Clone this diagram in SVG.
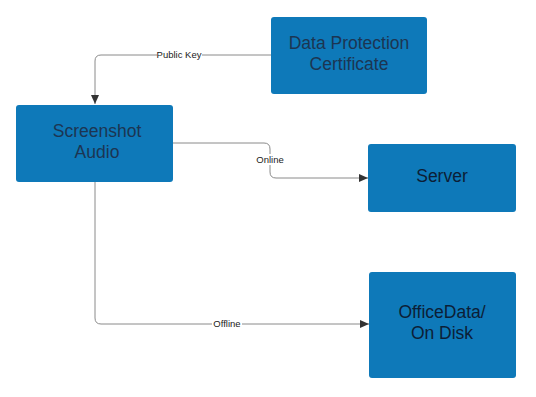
<svg xmlns="http://www.w3.org/2000/svg" width="536" height="397" viewBox="0 0 536 397">
<defs>
<style>
.box{fill:#0e79b9;}
.t{font-family:"Liberation Sans",Arial,sans-serif;font-size:17.5px;fill:#1c3552;text-anchor:middle;}
.d{fill:#0c1e36;}
.c{fill:none;stroke:#8a8a8a;stroke-width:1;}
.l{font-family:"Liberation Sans",Arial,sans-serif;font-size:9.5px;fill:#222;text-anchor:middle;}
.lb{fill:#fff;}
</style>
<marker id="ah" markerWidth="10" markerHeight="8" refX="9" refY="4" orient="auto" markerUnits="userSpaceOnUse">
<path d="M0,0 L9,4 L0,8 Z" fill="#333"/>
</marker>
</defs>
<rect width="536" height="397" fill="#fff"/>
<g id="connectors">
<path class="c" d="M271,55 H101 Q95,55 95,61 V104" marker-end="url(#ah)"/>
<rect class="lb" x="157" y="49" width="45" height="11"/>
<text class="l" x="179" y="58">Public Key</text>
<path class="c" d="M173,143 H264 Q270,143 270,149 V172 Q270,178 276,178 H368" marker-end="url(#ah)"/>
<rect class="lb" x="255" y="154" width="31" height="11"/>
<text class="l" x="270" y="163">Online</text>
<path class="c" d="M95,182 V318 Q95,324 101,324 H369" marker-end="url(#ah)"/>
<rect class="lb" x="212" y="318" width="30" height="11"/>
<text class="l" x="227" y="327">Offline</text>
</g>
<g id="dpc">
<rect class="box" x="271" y="17" width="156" height="77" rx="3"/>
<text class="t" x="349" y="49">Data Protection</text>
<text class="t" x="349" y="70">Certificate</text>
</g>
<g id="screenshot">
<rect class="box" x="16" y="105" width="157" height="77" rx="3"/>
<text class="t" x="97" y="137">Screenshot</text>
<text class="t" x="97" y="158">Audio</text>
</g>
<g id="server">
<rect class="box" x="368" y="144" width="148" height="68" rx="3"/>
<text class="t d" x="442" y="182">Server</text>
</g>
<g id="office">
<rect class="box" x="369" y="272" width="147" height="106" rx="3"/>
<text class="t d" x="442" y="318">OfficeData/</text>
<text class="t d" x="442" y="339">On Disk</text>
</g>
</svg>
